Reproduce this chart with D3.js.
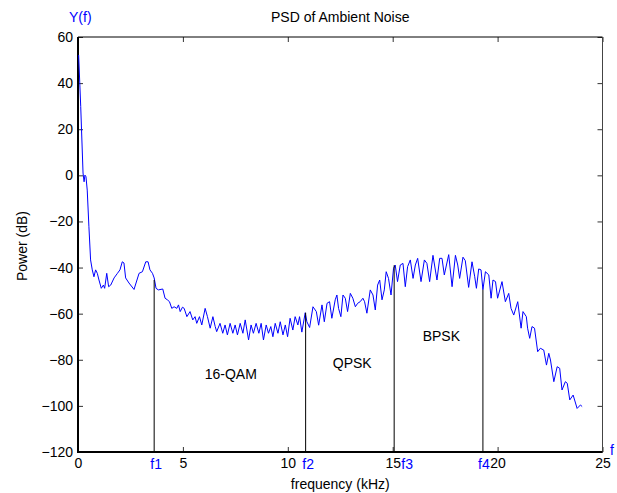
<!DOCTYPE html>
<html>
<head>
<meta charset="utf-8">
<script src="https://cdn.jsdelivr.net/npm/d3@7"></script>
<style>
  body { margin: 0; background: #fff; }
  text { font-family: "Liberation Sans", Arial, sans-serif; font-size: 14px; }
</style>
</head>
<body>
<div id="chart"></div>
<script>
// PSD curve, frequency in kHz and power in dB
var freq = [0.03,0.13,0.24,0.29,0.33,0.38,0.44,0.52,0.60,0.68,0.76,0.84,0.92,1.00,1.11,1.21,1.27,1.37,1.46,1.56,
  1.72,1.88,2.00,2.11,2.19,2.27,2.43,2.67,2.91,3.07,3.23,3.34,3.43,3.55,3.63,3.72,3.83,4.04,4.15,4.26,
  4.36,4.47,4.58,4.71,4.79,4.87,4.98,5.06,5.19,5.34,5.47,5.58,5.66,5.79,5.90,6.06,6.17,6.30,6.43,6.54,
  6.61,6.77,6.90,7.01,7.12,7.25,7.38,7.49,7.60,7.73,7.86,7.97,8.13,8.25,8.36,8.49,8.62,8.73,8.84,8.97,
  9.08,9.19,9.29,9.40,9.53,9.64,9.77,9.88,9.99,10.11,10.24,10.35,10.48,10.56,10.67,10.83,10.91,11.04,11.20,11.36,
  11.47,11.63,11.74,11.87,11.99,12.10,12.26,12.34,12.42,12.53,12.63,12.74,12.85,12.98,13.10,13.22,13.33,13.45,13.58,13.66,
  13.77,13.93,14.06,14.17,14.28,14.38,14.49,14.60,14.69,14.80,14.92,15.04,15.12,15.23,15.36,15.49,15.60,15.71,15.84,15.97,
  16.08,16.19,16.35,16.51,16.63,16.76,16.92,17.11,17.24,17.35,17.46,17.67,17.83,17.99,18.10,18.19,18.35,18.46,18.62,18.78,
  18.91,18.99,19.10,19.21,19.30,19.42,19.58,19.69,19.78,19.90,20.00,20.21,20.37,20.53,20.64,20.77,20.96,21.12,21.21,21.37,
  21.43,21.53,21.64,21.76,21.91,22.04,22.20,22.33,22.44,22.52,22.68,22.84,22.96,23.07,23.23,23.32,23.44,23.60,23.79,23.95,24.03];
var power = [52.2,29.8,1.0,-2.8,0.1,-0.6,-6.4,-22.3,-36.7,-41,-44,-41,-42.5,-45.4,-49,-47.6,-49,-42.5,-48.3,-47.6,
  -44.5,-42.5,-41,-37.5,-38,-44.5,-46.7,-49.5,-42.5,-41.8,-37.5,-37.5,-41,-42.5,-44.5,-49,-49.7,-49.3,-53.3,-54,
  -54.8,-57.7,-57,-57.7,-56.2,-59.1,-57.2,-57.7,-61.3,-59.1,-62.7,-61.3,-64.2,-61.3,-64.9,-57.7,-61.3,-66.3,-61.3,-65.6,
  -67.8,-64.2,-68.5,-64.9,-69.2,-64.2,-68.5,-64.9,-69.2,-64.2,-68.5,-62.7,-71.4,-64.9,-68.5,-64.2,-68.5,-64.2,-71.4,-64.9,
  -68.5,-65.6,-70,-64.2,-68.5,-63.5,-69.2,-64.9,-70,-62,-67.1,-61.3,-64.9,-61.3,-68,-59.6,-63.5,-66,-57,-59.1,
  -65,-56.2,-63.5,-55.5,-54.8,-62,-54,-51.9,-57.7,-61.3,-51.9,-53.3,-59.1,-51.2,-53.3,-57,-55.5,-54.8,-53.3,-54.8,
  -59.8,-49.7,-51.9,-58.4,-47.6,-45.4,-54,-49.7,-41.8,-44.7,-51.9,-40.3,-38.9,-46.1,-38.9,-38.2,-48.3,-39.6,-36.7,-44.7,
  -38.9,-36,-46.1,-36.7,-38.2,-46.1,-34.7,-45.4,-36,-36,-43.2,-34.4,-48.3,-34.7,-38.9,-44.7,-35.5,-37,-48.6,-37.5,
  -44,-49,-40.6,-41,-49.6,-41.8,-43.2,-53.3,-45.4,-46.1,-53.3,-46.1,-54.8,-51.2,-57.7,-60.6,-54.8,-66.3,-59.1,-61.3,
  -66.3,-70.7,-65.6,-66.3,-76.5,-75,-75.8,-82.3,-77.2,-80.1,-89.5,-83,-83.7,-93.1,-89.5,-90.2,-97.4,-95.3,-101.1,-99.6,-100.3];

// band edges drawn as vertical lines from the bottom up to the curve
var markerNames = ["f1", "f2", "f3", "f4"];
var markerFreq = [3.63, 10.85, 15.07, 19.30];
var markerTop = [-45.4, -59.6, -39.0, -49.6];

// modulation labels placed in data coordinates
var bandNames = ["16-QAM", "QPSK", "BPSK"];
var bandFreq = [7.28, 13.07, 17.32];
var bandPower = [-86.2, -81.4, -69.7];

var xTicks = [0, 5, 10, 15, 20, 25];
var yTicks = [-120, -100, -80, -60, -40, -20, 0, 20, 40, 60];

var W = 617, H = 493;
var margin = {top: 37, right: 14.5, bottom: 41, left: 78};
var width = W - margin.left - margin.right,
    height = H - margin.top - margin.bottom;

var svg = d3.select("#chart").append("svg")
    .attr("width", W)
    .attr("height", H);

var plot = svg.append("g")
    .attr("transform", "translate(" + margin.left + "," + margin.top + ")");

var x = d3.scaleLinear().domain([0, 25]).range([0, width]);
var y = d3.scaleLinear().domain([-120, 60]).range([height, 0]);

// ticks inside the box on all four sides, matlab style
function inside(axis, len) {
  return axis.tickSizeInner(-len).tickSizeOuter(0).tickPadding(len + 6);
}

var bottomAxis = plot.append("g")
    .attr("transform", "translate(0," + height + ")")
    .call(inside(d3.axisBottom(x).tickValues(xTicks).tickFormat(d3.format("d")), 5));
var leftAxis = plot.append("g")
    .call(inside(d3.axisLeft(y).tickValues(yTicks).tickFormat(d3.format("d")), 5));
var topAxis = plot.append("g")
    .call(inside(d3.axisTop(x).tickValues(xTicks).tickFormat(""), 5));
var rightAxis = plot.append("g")
    .attr("transform", "translate(" + width + ",0)")
    .call(inside(d3.axisRight(y).tickValues(yTicks).tickFormat(""), 5));

[bottomAxis, leftAxis, topAxis, rightAxis].forEach(function(a) {
  a.selectAll(".domain").remove();
  a.selectAll(".tick line").attr("stroke", "#333");
  a.selectAll("text").attr("fill", "#000").style("font-size", "14px")
    .style("font-family", "'Liberation Sans', Arial, sans-serif");
});
bottomAxis.selectAll("text").attr("y", 6).attr("dy", "0.71em");
leftAxis.selectAll("text").attr("x", -5);

// box
plot.append("line").attr("x1", 0).attr("x2", width).attr("y1", 0).attr("y2", 0)
    .attr("stroke", "#000").attr("stroke-width", 1);
plot.append("line").attr("x1", width).attr("x2", width).attr("y1", 0).attr("y2", height)
    .attr("stroke", "#444").attr("stroke-width", 1);
plot.append("line").attr("x1", 0).attr("x2", 0).attr("y1", 0).attr("y2", height + 1)
    .attr("stroke", "#000").attr("stroke-width", 2);
plot.append("line").attr("x1", -1).attr("x2", width).attr("y1", height).attr("y2", height)
    .attr("stroke", "#000").attr("stroke-width", 2);

// curve
var line = d3.line()
    .x(function(d, i) { return x(freq[i]); })
    .y(function(d, i) { return y(power[i]); });

plot.append("path")
    .datum(freq)
    .attr("d", line)
    .attr("fill", "none")
    .attr("stroke", "#0000ff")
    .attr("stroke-width", 1);

// band edge lines
plot.selectAll(".marker")
    .data(markerFreq)
  .enter().append("line")
    .attr("class", "marker")
    .attr("x1", function(d) { return x(d); })
    .attr("x2", function(d) { return x(d); })
    .attr("y1", y(-120))
    .attr("y2", function(d, i) { return y(markerTop[i]); })
    .attr("stroke", "#000")
    .attr("stroke-width", 1);

// f1..f4 labels under the axis (f3 sits a bit to the right of its line)
var labelShift = [2, 2.5, 13, 1];
plot.selectAll(".mlabel")
    .data(markerNames)
  .enter().append("text")
    .attr("class", "mlabel")
    .attr("x", function(d, i) { return x(markerFreq[i]) + labelShift[i]; })
    .attr("y", height + 17)
    .attr("text-anchor", "middle")
    .attr("fill", "#0000ff")
    .text(function(d) { return d; });

plot.selectAll(".blabel")
    .data(bandNames)
  .enter().append("text")
    .attr("class", "blabel")
    .attr("x", function(d, i) { return x(bandFreq[i]); })
    .attr("y", function(d, i) { return y(bandPower[i]); })
    .attr("dy", "0.35em")
    .attr("text-anchor", "middle")
    .text(function(d) { return d; });

// titles
svg.append("text")
    .text("PSD of Ambient Noise")
    .attr("x", margin.left + width / 2)
    .attr("y", 22)
    .attr("text-anchor", "middle");

svg.append("text")
    .text("frequency (kHz)")
    .attr("x", margin.left + width / 2)
    .attr("y", 489)
    .attr("text-anchor", "middle");

svg.append("text")
    .text("Power (dB)")
    .attr("transform", "translate(27,246) rotate(-90)")
    .attr("text-anchor", "middle");

svg.append("text")
    .text("Y(f)")
    .attr("x", 69)
    .attr("y", 22)
    .attr("fill", "#0000ff");

svg.append("text")
    .text("f")
    .attr("x", 610)
    .attr("y", 455)
    .attr("fill", "#0000ff");
</script>
</body>
</html>
